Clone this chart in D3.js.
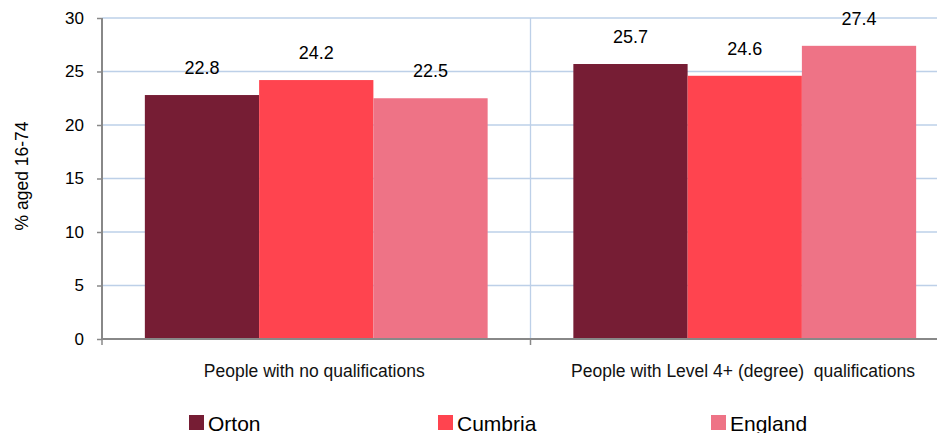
<!DOCTYPE html>
<html>
<head>
<meta charset="utf-8">
<script src="https://cdn.jsdelivr.net/npm/d3@7"></script>
<style>
body { margin: 0; background: #fff; }
svg { display: block; font-family: "Liberation Sans", Arial, sans-serif; }
</style>
</head>
<body>
<svg width="937" height="433"></svg>
<script>
// chart data
var categories = ["People with no qualifications", "People with Level 4+ (degree)  qualifications"];
var series = ["Orton", "Cumbria", "England"];
var colours = ["#761D34", "#FF444F", "#EE7386"];
var orton = [22.8, 25.7];
var cumbria = [24.2, 24.6];
var england = [22.5, 27.4];
var yTicks = [0, 5, 10, 15, 20, 25, 30];
var legendX = [189, 438, 711];

var values = [orton, cumbria, england];
var svg = d3.select("svg");
var mLeft = 102, mTop = 18, mBottom = 339, mRight = 959;

var x0 = d3.scaleBand().domain(categories).range([mLeft, mRight]);
var x1 = d3.scaleBand().domain(series).range([x0.bandwidth()*0.1, x0.bandwidth()*0.9]);
var y = d3.scaleLinear().domain([0, 30]).range([mBottom, mTop]);

// gridlines
svg.append("g").selectAll("line").data(yTicks.slice(1)).enter().append("line")
	.attr("x1", mLeft).attr("x2", 937)
	.attr("y1", function(d){ return y(d); }).attr("y2", function(d){ return y(d); })
	.attr("stroke", "#BDD0E8").attr("stroke-width", 1.3);

// separator between categories
svg.append("line")
	.attr("x1", x0(categories[1])).attr("x2", x0(categories[1]))
	.attr("y1", mTop).attr("y2", mBottom)
	.attr("stroke", "#BDD0E8").attr("stroke-width", 1.3);

// bars
var groups = svg.append("g").selectAll("g").data(categories).enter().append("g")
	.attr("transform", function(d){ return "translate(" + x0(d) + ",0)"; });

function rows(d, i){
	return series.map(function(s, j){ return {s: s, j: j, v: values[j][i]}; });
}

groups.selectAll("rect").data(rows).enter().append("rect")
	.attr("x", function(d){ return x1(d.s); })
	.attr("width", x1.bandwidth())
	.attr("y", function(d){ return y(d.v); })
	.attr("height", function(d){ return y(0) - y(d.v); })
	.attr("fill", function(d){ return colours[d.j]; });

groups.selectAll("text").data(rows).enter().append("text")
	.attr("x", function(d){ return x1(d.s) + x1.bandwidth()/2; })
	.attr("y", function(d){ return y(d.v) - 21; })
	.attr("text-anchor", "middle")
	.attr("font-size", 18)
	.attr("fill", "#000")
	.text(function(d){ return d.v.toFixed(1); });

// y axis
var yAxis = svg.append("g").attr("transform", "translate(" + mLeft + ",0)")
	.call(d3.axisLeft(y).tickValues(yTicks).tickSize(5).tickPadding(13));
yAxis.select(".domain").attr("stroke", "#888").attr("stroke-width", 2).attr("d", "M0," + mTop + "V" + mBottom);
yAxis.selectAll(".tick line").attr("stroke", "#888").attr("stroke-width", 1.5);
yAxis.selectAll(".tick text").attr("font-size", 17).attr("fill", "#000")
	.attr("font-family", "Liberation Sans, Arial, sans-serif");

// x axis
svg.append("line").attr("x1", mLeft - 1).attr("x2", 937).attr("y1", mBottom).attr("y2", mBottom)
	.attr("stroke", "#888").attr("stroke-width", 2);
svg.append("g").selectAll("line").data(categories).enter().append("line")
	.attr("x1", function(d){ return x0(d); }).attr("x2", function(d){ return x0(d); })
	.attr("y1", mBottom).attr("y2", mBottom + 6)
	.attr("stroke", "#888").attr("stroke-width", 1.5);
svg.append("g").selectAll("text").data(categories).enter().append("text")
	.attr("x", function(d, i){ return i == 0 ? x0(d) + x0.bandwidth()/2 - 2 : 743; })
	.attr("y", 377)
	.attr("text-anchor", "middle")
	.attr("font-size", 17.5)
	.attr("fill", "#111")
	.style("white-space", "pre")
	.text(function(d){ return d; });

// y title
svg.append("text")
	.attr("transform", "translate(28,176) rotate(-90)")
	.attr("text-anchor", "middle")
	.attr("font-size", 17.5)
	.attr("fill", "#000")
	.text("% aged 16-74");

// legend
var leg = svg.append("g").selectAll("g").data(series).enter().append("g")
	.attr("transform", function(d, i){ return "translate(" + legendX[i] + ",415)"; });
leg.append("rect").attr("width", 15).attr("height", 15)
	.attr("fill", function(d, i){ return colours[i]; });
leg.append("text").attr("x", 19).attr("y", 16)
	.attr("font-size", 21)
	.attr("fill", "#000")
	.text(function(d){ return d; });
</script>
</body>
</html>
